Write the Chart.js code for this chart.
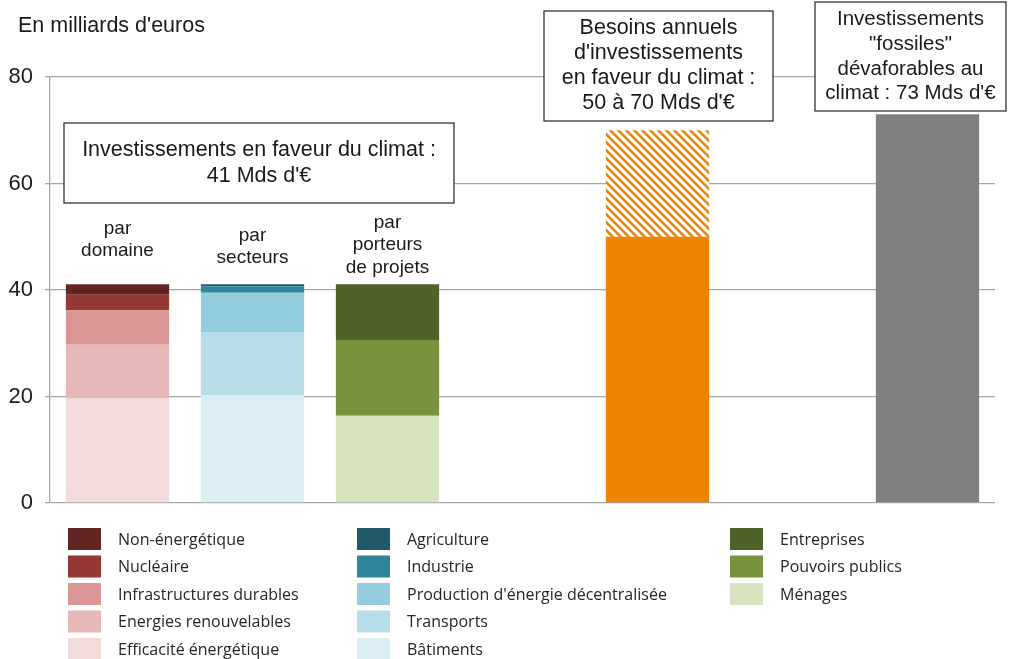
<!DOCTYPE html>
<html>
<head>
<meta charset="utf-8">
<script src="https://cdn.jsdelivr.net/npm/chart.js@4"></script>
<style>
  body { margin: 0; background: #fff; }
  #wrap { width: 1011px; height: 659px; }
</style>
</head>
<body>
<div id="wrap"><canvas id="climatChart" width="1011" height="659"></canvas></div>
<script>
// categories on the x axis (7 slots, two of them empty spacers)
const categories = ['domaine', 'secteurs', 'porteurs', '', 'besoins', '', 'fossiles'];

// par domaine (bottom -> top)
const domaineNames = ['Efficacité énergétique', 'Energies renouvelables', 'Infrastructures durables', 'Nucléaire', 'Non-énergétique'];
const domaineValues = [19.7, 10.0, 6.5, 2.9, 2.0];
const domaineColors = ['#f2dcdb', '#e6b9b8', '#d99694', '#953735', '#632523'];

// par secteurs
const secteurNames = ['Bâtiments', 'Transports', "Production d'énergie décentralisée", 'Industrie', 'Agriculture'];
const secteurValues = [20.3, 11.8, 7.4, 1.2, 0.4];
const secteurColors = ['#dbeef4', '#b7dee8', '#93cddd', '#31859c', '#215968'];

// par porteurs de projets
const porteurNames = ['Ménages', 'Pouvoirs publics', 'Entreprises'];
const porteurValues = [16.4, 14.2, 10.5];
const porteurColors = ['#d7e4bd', '#77933c', '#4f6228'];

// besoins annuels : 50 (bas) a 70 (haut), investissements fossiles : 73
const besoinsMin = 50;
const besoinsMax = 70;
const fossiles = 73;

function slot(idx, v) {
  const arr = categories.map(() => null);
  arr[idx] = v;
  return arr;
}

function hatch() {
  const c = document.createElement('canvas');
  c.width = 8; c.height = 8;
  const g = c.getContext('2d');
  g.fillStyle = '#fff';
  g.fillRect(0, 0, 8, 8);
  g.strokeStyle = '#f08300';
  g.lineWidth = 2.6;
  g.beginPath();
  g.moveTo(-2, -2); g.lineTo(10, 10);
  g.moveTo(-2, 6); g.lineTo(2, 10);
  g.moveTo(6, -2); g.lineTo(10, 2);
  g.stroke();
  return document.getElementById('climatChart').getContext('2d').createPattern(c, 'repeat');
}

const datasets = [];
const groups = [
  { names: domaineNames, values: domaineValues, colors: domaineColors, idx: 0 },
  { names: secteurNames, values: secteurValues, colors: secteurColors, idx: 1 },
  { names: porteurNames, values: porteurValues, colors: porteurColors, idx: 2 }
];
groups.forEach(g => {
  g.names.forEach((n, i) => {
    datasets.push({ label: n, data: slot(g.idx, g.values[i]), backgroundColor: g.colors[i] });
  });
});
datasets.push({ label: 'besoins min', data: slot(4, besoinsMin), backgroundColor: '#f08300' });
datasets.push({ label: 'besoins max', data: slot(4, besoinsMax - besoinsMin), backgroundColor: hatch() });
datasets.push({ label: 'fossiles', data: slot(6, fossiles), backgroundColor: '#808080' });

const FONT = "'Liberation Sans', Arial, sans-serif";

const decor = {
  id: 'decor',
  afterDraw(chart) {
    const ctx = chart.ctx;
    const x = chart.scales.x, y = chart.scales.y;
    ctx.save();
    ctx.fillStyle = '#1a1a1a';
    ctx.font = '21.5px ' + FONT;
    ctx.textAlign = 'left';
    ctx.textBaseline = 'middle';
    ctx.fillText("En milliards d'euros", 18, 26);

    // labels above the three stacked bars
    ctx.font = '19px ' + FONT;
    ctx.textAlign = 'center';
    const tops = [['par', 'domaine'], ['par', 'secteurs'], ['par', 'porteurs', 'de projets']];
    const offs = [-56, -49, -62];
    tops.forEach((lines, i) => {
      const cx = x.getPixelForValue(i);
      const base = y.getPixelForValue(41) + offs[i];
      lines.forEach((t, k) => ctx.fillText(t, cx, base + k * 22.5));
    });

    // boxed annotations
    function box(x0, y0, w, h, lines, lh, size) {
      ctx.fillStyle = '#fff';
      ctx.fillRect(x0, y0, w, h);
      ctx.strokeStyle = '#333';
      ctx.lineWidth = 1.3;
      ctx.strokeRect(x0, y0, w, h);
      ctx.fillStyle = '#1a1a1a';
      ctx.font = size + 'px ' + FONT;
      const start = y0 + h / 2 - (lines.length - 1) * lh / 2;
      lines.forEach((t, k) => ctx.fillText(t, x0 + w / 2, start + k * lh));
    }
    box(64, 123, 390, 80, ['Investissements en faveur du climat :', "41 Mds d'€"], 26, 21.5);
    box(544, 11, 229, 110, ['Besoins annuels', "d'investissements", 'en faveur du climat :', "50 à 70 Mds d'€"], 25, 21.5);
    box(815, 2, 191, 109, ['Investissements', '"fossiles"', 'dévaforables au', "climat : 73 Mds d'€"], 24.7, 20.5);

    // legend, three columns
    const colX = [68, 357, 730];
    ctx.font = "16px 'Open Sans', sans-serif";
    ctx.textAlign = 'left';
    groups.forEach((g, gi) => {
      const n = g.names.length;
      for (let r = 0; r < n; r++) {
        const i = n - 1 - r;
        const top = 528 + r * 27.5;
        ctx.fillStyle = g.colors[i];
        ctx.fillRect(colX[gi], top, 33, 22);
        ctx.fillStyle = '#262626';
        ctx.fillText(g.names[i], colX[gi] + 50, top + 12);
      }
    });
    ctx.restore();
  }
};

new Chart(document.getElementById('climatChart'), {
  type: 'bar',
  data: { labels: categories, datasets: datasets },
  options: {
    responsive: false,
    animation: false,
    layout: { padding: { top: 77, bottom: 156, right: 16, left: 0 } },
    plugins: { legend: { display: false }, tooltip: { enabled: false } },
    datasets: { bar: { categoryPercentage: 1, barPercentage: 0.765 } },
    scales: {
      x: { stacked: true, display: false },
      y: {
        stacked: true,
        min: 0, max: 80,
        afterFit: s => { s.width = 50; },
        ticks: { stepSize: 20, color: '#1a1a1a', font: { size: 22, family: FONT }, padding: 12 },
        grid: { color: '#a6a6a6', lineWidth: 1.3, tickLength: 5 },
        border: { color: '#a6a6a6', width: 1.3 }
      }
    }
  },
  plugins: [decor]
});
</script>
</body>
</html>
